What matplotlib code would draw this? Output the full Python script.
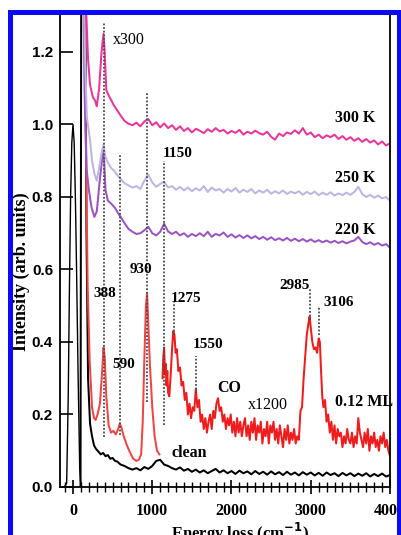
import numpy as np
import matplotlib.pyplot as plt
from matplotlib.patches import Rectangle
from matplotlib.ticker import MultipleLocator

# energy grid shared by the flat tails (cm-1)
tail_e = list(range(600, 4001, 50))

# 300 K (x300)
k300_head_e = [130, 160, 190, 215, 250, 280, 300, 330, 360, 385, 400, 420, 450, 480, 510, 540, 570]
k300_head_v = [1.60, 1.35, 1.18, 1.11, 1.076, 1.065, 1.05, 1.10, 1.20, 1.25, 1.20, 1.095, 1.08, 1.068, 1.055, 1.045, 1.035]
k300_tail_v = [1.025, 1.010, 1.002, 0.998, 1.005, 0.995, 1.008, 1.015, 0.998, 1.006, 0.992, 1.003, 0.990, 0.998,
               0.985, 0.995, 0.982, 0.990, 0.978, 0.988, 0.983, 0.976, 0.987, 0.980, 0.990, 0.981, 0.985, 0.975,
               0.982, 0.977, 0.985, 0.972, 0.980, 0.975, 0.983, 0.976, 0.972, 0.980, 0.966, 0.958, 0.975, 0.968,
               0.978, 0.974, 0.984, 0.975, 0.990, 0.972, 0.978, 0.965, 0.972, 0.962, 0.970, 0.965, 0.972, 0.960,
               0.968, 0.958, 0.965, 0.955, 0.962, 0.952, 0.960, 0.950, 0.956, 0.945, 0.953, 0.942, 0.948]

# 250 K
k250_head_e = [125, 150, 175, 215, 240, 270, 300, 330, 360, 385, 410, 440, 480, 520, 560]
k250_head_v = [1.60, 1.20, 1.02, 0.957, 0.90, 0.865, 0.845, 0.88, 0.92, 0.945, 0.91, 0.895, 0.88, 0.872, 0.86]
k250_tail_v = [0.850, 0.838, 0.832, 0.826, 0.830, 0.822, 0.845, 0.862, 0.840, 0.828, 0.836, 0.842, 0.826, 0.830,
               0.820, 0.828, 0.818, 0.826, 0.816, 0.824, 0.818, 0.830, 0.814, 0.826, 0.818, 0.822, 0.812, 0.822,
               0.815, 0.825, 0.812, 0.820, 0.814, 0.822, 0.810, 0.818, 0.812, 0.820, 0.809, 0.816, 0.810, 0.818,
               0.808, 0.815, 0.810, 0.816, 0.806, 0.814, 0.808, 0.815, 0.805, 0.812, 0.806, 0.813, 0.804, 0.810,
               0.805, 0.812, 0.806, 0.814, 0.828, 0.808, 0.800, 0.806, 0.798, 0.804, 0.796, 0.800, 0.790]

# 220 K
k220_head_e = [120, 145, 170, 200, 235, 270, 300, 340, 385, 410, 440, 480, 530, 570]
k220_head_v = [1.60, 1.10, 0.88, 0.82, 0.77, 0.745, 0.76, 0.85, 0.94, 0.82, 0.79, 0.782, 0.77, 0.755]
k220_tail_v = [0.745, 0.728, 0.712, 0.704, 0.698, 0.700, 0.708, 0.718, 0.700, 0.694, 0.704, 0.726, 0.705, 0.698,
               0.704, 0.694, 0.700, 0.690, 0.698, 0.692, 0.700, 0.692, 0.704, 0.690, 0.698, 0.694, 0.702, 0.690,
               0.697, 0.688, 0.695, 0.687, 0.694, 0.686, 0.692, 0.684, 0.690, 0.682, 0.689, 0.681, 0.686, 0.680,
               0.687, 0.679, 0.685, 0.678, 0.684, 0.677, 0.683, 0.676, 0.681, 0.675, 0.680, 0.674, 0.679, 0.673,
               0.678, 0.672, 0.677, 0.680, 0.690, 0.676, 0.670, 0.675, 0.668, 0.673, 0.666, 0.670, 0.660]

# 0.12 ML (x1200), low-energy segment
ml_low_e = [135, 160, 185, 210, 240, 265, 285, 310, 340, 365, 385, 400, 420, 450, 480, 510, 540, 570, 590, 610,
            640, 680, 720, 760, 800, 830, 860, 880, 900, 920, 935, 950, 970, 1000, 1030, 1060, 1090]
ml_low_v = [1.60, 1.00, 0.55, 0.35, 0.22, 0.19, 0.185, 0.20, 0.23, 0.31, 0.385, 0.36, 0.25, 0.17, 0.15, 0.155,
            0.145, 0.16, 0.175, 0.165, 0.14, 0.115, 0.095, 0.078, 0.072, 0.075, 0.09, 0.18, 0.35, 0.50, 0.535,
            0.45, 0.34, 0.22, 0.14, 0.10, 0.09]

# 0.12 ML (x1200), high-energy segment
ml_high_e = [1130, 1140, 1150, 1160, 1170, 1180, 1190, 1200, 1215, 1230, 1250, 1265, 1280, 1295, 1310, 1330,
             1350, 1370, 1390, 1410, 1430, 1450, 1470, 1490, 1510, 1530, 1550, 1570, 1590, 1610, 1630, 1650,
             1670, 1690, 1710, 1730, 1750, 1770, 1790, 1810, 1830, 1850, 1870, 1890, 1910, 1930, 1950, 1970,
             1990, 2010, 2030, 2050, 2070, 2090, 2110, 2130, 2150, 2170, 2190, 2210, 2230, 2250, 2270, 2290,
             2310, 2330, 2350, 2370, 2390, 2410, 2430, 2450, 2470, 2490, 2510, 2530, 2550, 2570, 2590, 2610,
             2630, 2650, 2670, 2690, 2710, 2730, 2750, 2770, 2790, 2810, 2830, 2850, 2870, 2890, 2910, 2930,
             2950, 2970, 2985, 3000, 3020, 3040, 3060, 3080, 3100, 3115, 3130, 3145, 3160, 3180, 3200, 3220,
             3240, 3260, 3280, 3300, 3320, 3340, 3360, 3380, 3400, 3420, 3440, 3460, 3480, 3500, 3520, 3540,
             3560, 3580, 3600, 3620, 3640, 3660, 3680, 3700, 3720, 3740, 3760, 3780, 3800, 3820, 3840, 3860,
             3880, 3900, 3920, 3940, 3960, 3980, 4000]
ml_high_v = [0.30, 0.36, 0.385, 0.31, 0.34, 0.28, 0.32, 0.26, 0.25, 0.30, 0.38, 0.43, 0.42, 0.37, 0.38, 0.32,
             0.33, 0.28, 0.29, 0.24, 0.26, 0.20, 0.23, 0.19, 0.22, 0.21, 0.27, 0.22, 0.24, 0.18, 0.20, 0.16,
             0.19, 0.15, 0.18, 0.20, 0.16, 0.21, 0.19, 0.23, 0.245, 0.21, 0.22, 0.18, 0.20, 0.16, 0.19, 0.17,
             0.20, 0.15, 0.18, 0.14, 0.19, 0.15, 0.18, 0.14, 0.17, 0.19, 0.14, 0.17, 0.13, 0.18, 0.15, 0.19,
             0.13, 0.17, 0.15, 0.18, 0.12, 0.16, 0.14, 0.18, 0.12, 0.17, 0.15, 0.18, 0.13, 0.16, 0.12, 0.17,
             0.14, 0.11, 0.16, 0.13, 0.17, 0.12, 0.15, 0.13, 0.16, 0.12, 0.14, 0.13, 0.21, 0.22, 0.30, 0.36,
             0.42, 0.45, 0.47, 0.44, 0.40, 0.38, 0.385, 0.37, 0.41, 0.40, 0.32, 0.25, 0.22, 0.24, 0.18, 0.20,
             0.15, 0.18, 0.13, 0.17, 0.12, 0.16, 0.14, 0.15, 0.11, 0.14, 0.12, 0.16, 0.13, 0.12, 0.15, 0.11,
             0.14, 0.12, 0.19, 0.15, 0.13, 0.11, 0.15, 0.12, 0.16, 0.10, 0.14, 0.12, 0.15, 0.11, 0.13, 0.10,
             0.14, 0.12, 0.15, 0.11, 0.13, 0.10, 0.085]

# clean surface: elastic peak (x1) and scaled loss spectrum
elastic_e = [-160, -110, -80, -60, -45, -30, -15, 0, 15, 30, 45, 65, 85, 100, 115]
elastic_v = [0.0, 0.0, 0.01, 0.25, 0.55, 0.80, 0.95, 1.00, 0.95, 0.80, 0.60, 0.30, 0.05, 0.0, 0.0]
clean_head_e = [95, 105, 150, 170, 190, 215, 240, 265, 290, 320, 350, 380, 410, 440, 470, 500, 530, 560]
clean_head_v = [0.0, 1.60, 1.60, 0.70, 0.30, 0.175, 0.14, 0.115, 0.105, 0.098, 0.090, 0.094, 0.085, 0.088,
                0.078, 0.080, 0.072, 0.070]
clean_tail_v = [0.062, 0.058, 0.052, 0.048, 0.052, 0.046, 0.055, 0.050, 0.058, 0.072, 0.075, 0.062, 0.058, 0.052,
                0.048, 0.054, 0.045, 0.050, 0.042, 0.048, 0.040, 0.046, 0.038, 0.044, 0.050, 0.040, 0.046, 0.038,
                0.044, 0.036, 0.045, 0.038, 0.043, 0.035, 0.044, 0.036, 0.042, 0.034, 0.043, 0.035, 0.041, 0.033,
                0.042, 0.034, 0.040, 0.032, 0.041, 0.034, 0.040, 0.032, 0.039, 0.031, 0.040, 0.033, 0.038, 0.030,
                0.039, 0.032, 0.038, 0.030, 0.037, 0.031, 0.038, 0.029, 0.036, 0.030, 0.037, 0.029, 0.033]

# dotted peak markers: (position, y bottom, y top)
marker_pos = [388, 590, 930, 1150, 1275, 1550, 2985, 3106]
marker_lo = [0.138, 0.143, 0.235, 0.17, 0.42, 0.26, 0.46, 0.42]
marker_hi = [1.28, 0.915, 1.087, 0.90, 0.51, 0.36, 0.55, 0.50]

# peak labels: text, x, y
peak_text = ['388', '590', '930', '1150', '1275', '1550', '2985', '3106']
peak_x = [398, 492, 858, 1136, 1237, 1514, 2990, 3155]
peak_y = [0.535, 0.337, 0.599, 0.919, 0.519, 0.392, 0.557, 0.51]

W, H = 402, 535
fig = plt.figure(figsize=(W / 100, H / 100), dpi=100)
ax = fig.add_axes([60 / W, 1 - 487 / H, 330 / W, 472 / H])

lw = 1.45
ax.plot(elastic_e, elastic_v, color='black', lw=1.0)
ax.plot(clean_head_e + tail_e, clean_head_v + clean_tail_v, color='black', lw=lw)
ax.plot(ml_low_e, ml_low_v, color='#f04545', lw=lw)
ax.plot(ml_high_e, ml_high_v, color='#ee1c1c', lw=lw)
ax.plot(k220_head_e + tail_e, k220_head_v + k220_tail_v, color='#9a55c2', lw=lw)
ax.plot(k250_head_e + tail_e, k250_head_v + k250_tail_v, color='#bdb6e2', lw=lw)
ax.plot(k300_head_e + tail_e, k300_head_v + k300_tail_v, color='#e8359a', lw=lw)

ax.vlines(marker_pos, marker_lo, marker_hi, colors='#4a4a4a', linestyles=(0, (1, 1)), lw=1.3)

serif = 'Liberation Serif'
for t, x, y in zip(peak_text, peak_x, peak_y):
    ha = 'right' if t == '2985' else ('center' if t in ('388', '930') else 'left')
    ax.text(x, y, t, ha=ha, va='center', fontsize=11, fontweight='bold', family=serif)

ax.text(505, 1.233, 'x300', ha='left', va='center', fontsize=11.5, family=serif)
ax.text(2208, 0.226, 'x1200', ha='left', va='center', fontsize=11.5, family=serif)
ax.text(1817, 0.273, 'CO', ha='left', va='center', fontsize=11.5, fontweight='bold', family=serif)
ax.text(1237, 0.094, 'clean', ha='left', va='center', fontsize=11.5, fontweight='bold', family=serif)
ax.text(3306, 0.234, '0.12 ML', ha='left', va='center', fontsize=11.5, fontweight='bold', family=serif)
ax.text(3306, 1.018, '300 K', ha='left', va='center', fontsize=11.5, fontweight='bold', family=serif)
ax.text(3306, 0.852, '250 K', ha='left', va='center', fontsize=11.5, fontweight='bold', family=serif)
ax.text(3306, 0.709, '220 K', ha='left', va='center', fontsize=11.5, fontweight='bold', family=serif)

ax.set_xlim(-164, 4000)
ax.set_ylim(0, 1.302)
ax.set_yticks([0.0, 0.2, 0.4, 0.6, 0.8, 1.0, 1.2])
ax.set_yticklabels(['0.0', '0.2', '0.4', '0.6', '0.8', '1.0', '1.2'],
                   fontsize=11, fontweight='bold', family='Liberation Sans')
ax.set_xticks([0, 1000, 2000, 3000, 4000])
ax.set_xticklabels(['0', '1000', '2000', '3000', '4000'], fontsize=11.5, fontweight='bold', family=serif)
ax.xaxis.set_minor_locator(MultipleLocator(100))
ax.tick_params(axis='y', direction='in', length=9, width=1.2, pad=5)
ax.tick_params(axis='x', which='major', direction='inout', length=9.5, width=1.2, pad=7)
ax.tick_params(axis='x', which='minor', direction='inout', length=7, width=1.0)
ax.spines['top'].set_visible(False)
for s in ('left', 'right', 'bottom'):
    ax.spines[s].set_linewidth(1.3)

fig.text(21 / W, 1 - 272 / H, 'Intensity (arb. units)', rotation=90, ha='center', va='center',
         fontsize=13, fontweight='bold', family=serif)
fig.text(240 / W, 1 - 521 / H, 'Energy loss (cm$^{\\mathbf{-1}}$)', ha='center', va='top',
         fontsize=12, fontweight='bold', family=serif)

# blue frame of the cropped figure
blue = '#0a0af5'
for x0, y0, w, h in [(8, 10, 5, 525), (8, 10, 394, 5), (397, 10, 5, 525)]:
    fig.patches.append(Rectangle((x0 / W, 1 - (y0 + h) / H), w / W, h / H, transform=fig.transFigure,
                                 facecolor=blue, edgecolor='none', zorder=10))

fig.savefig('out.png', dpi=100)
